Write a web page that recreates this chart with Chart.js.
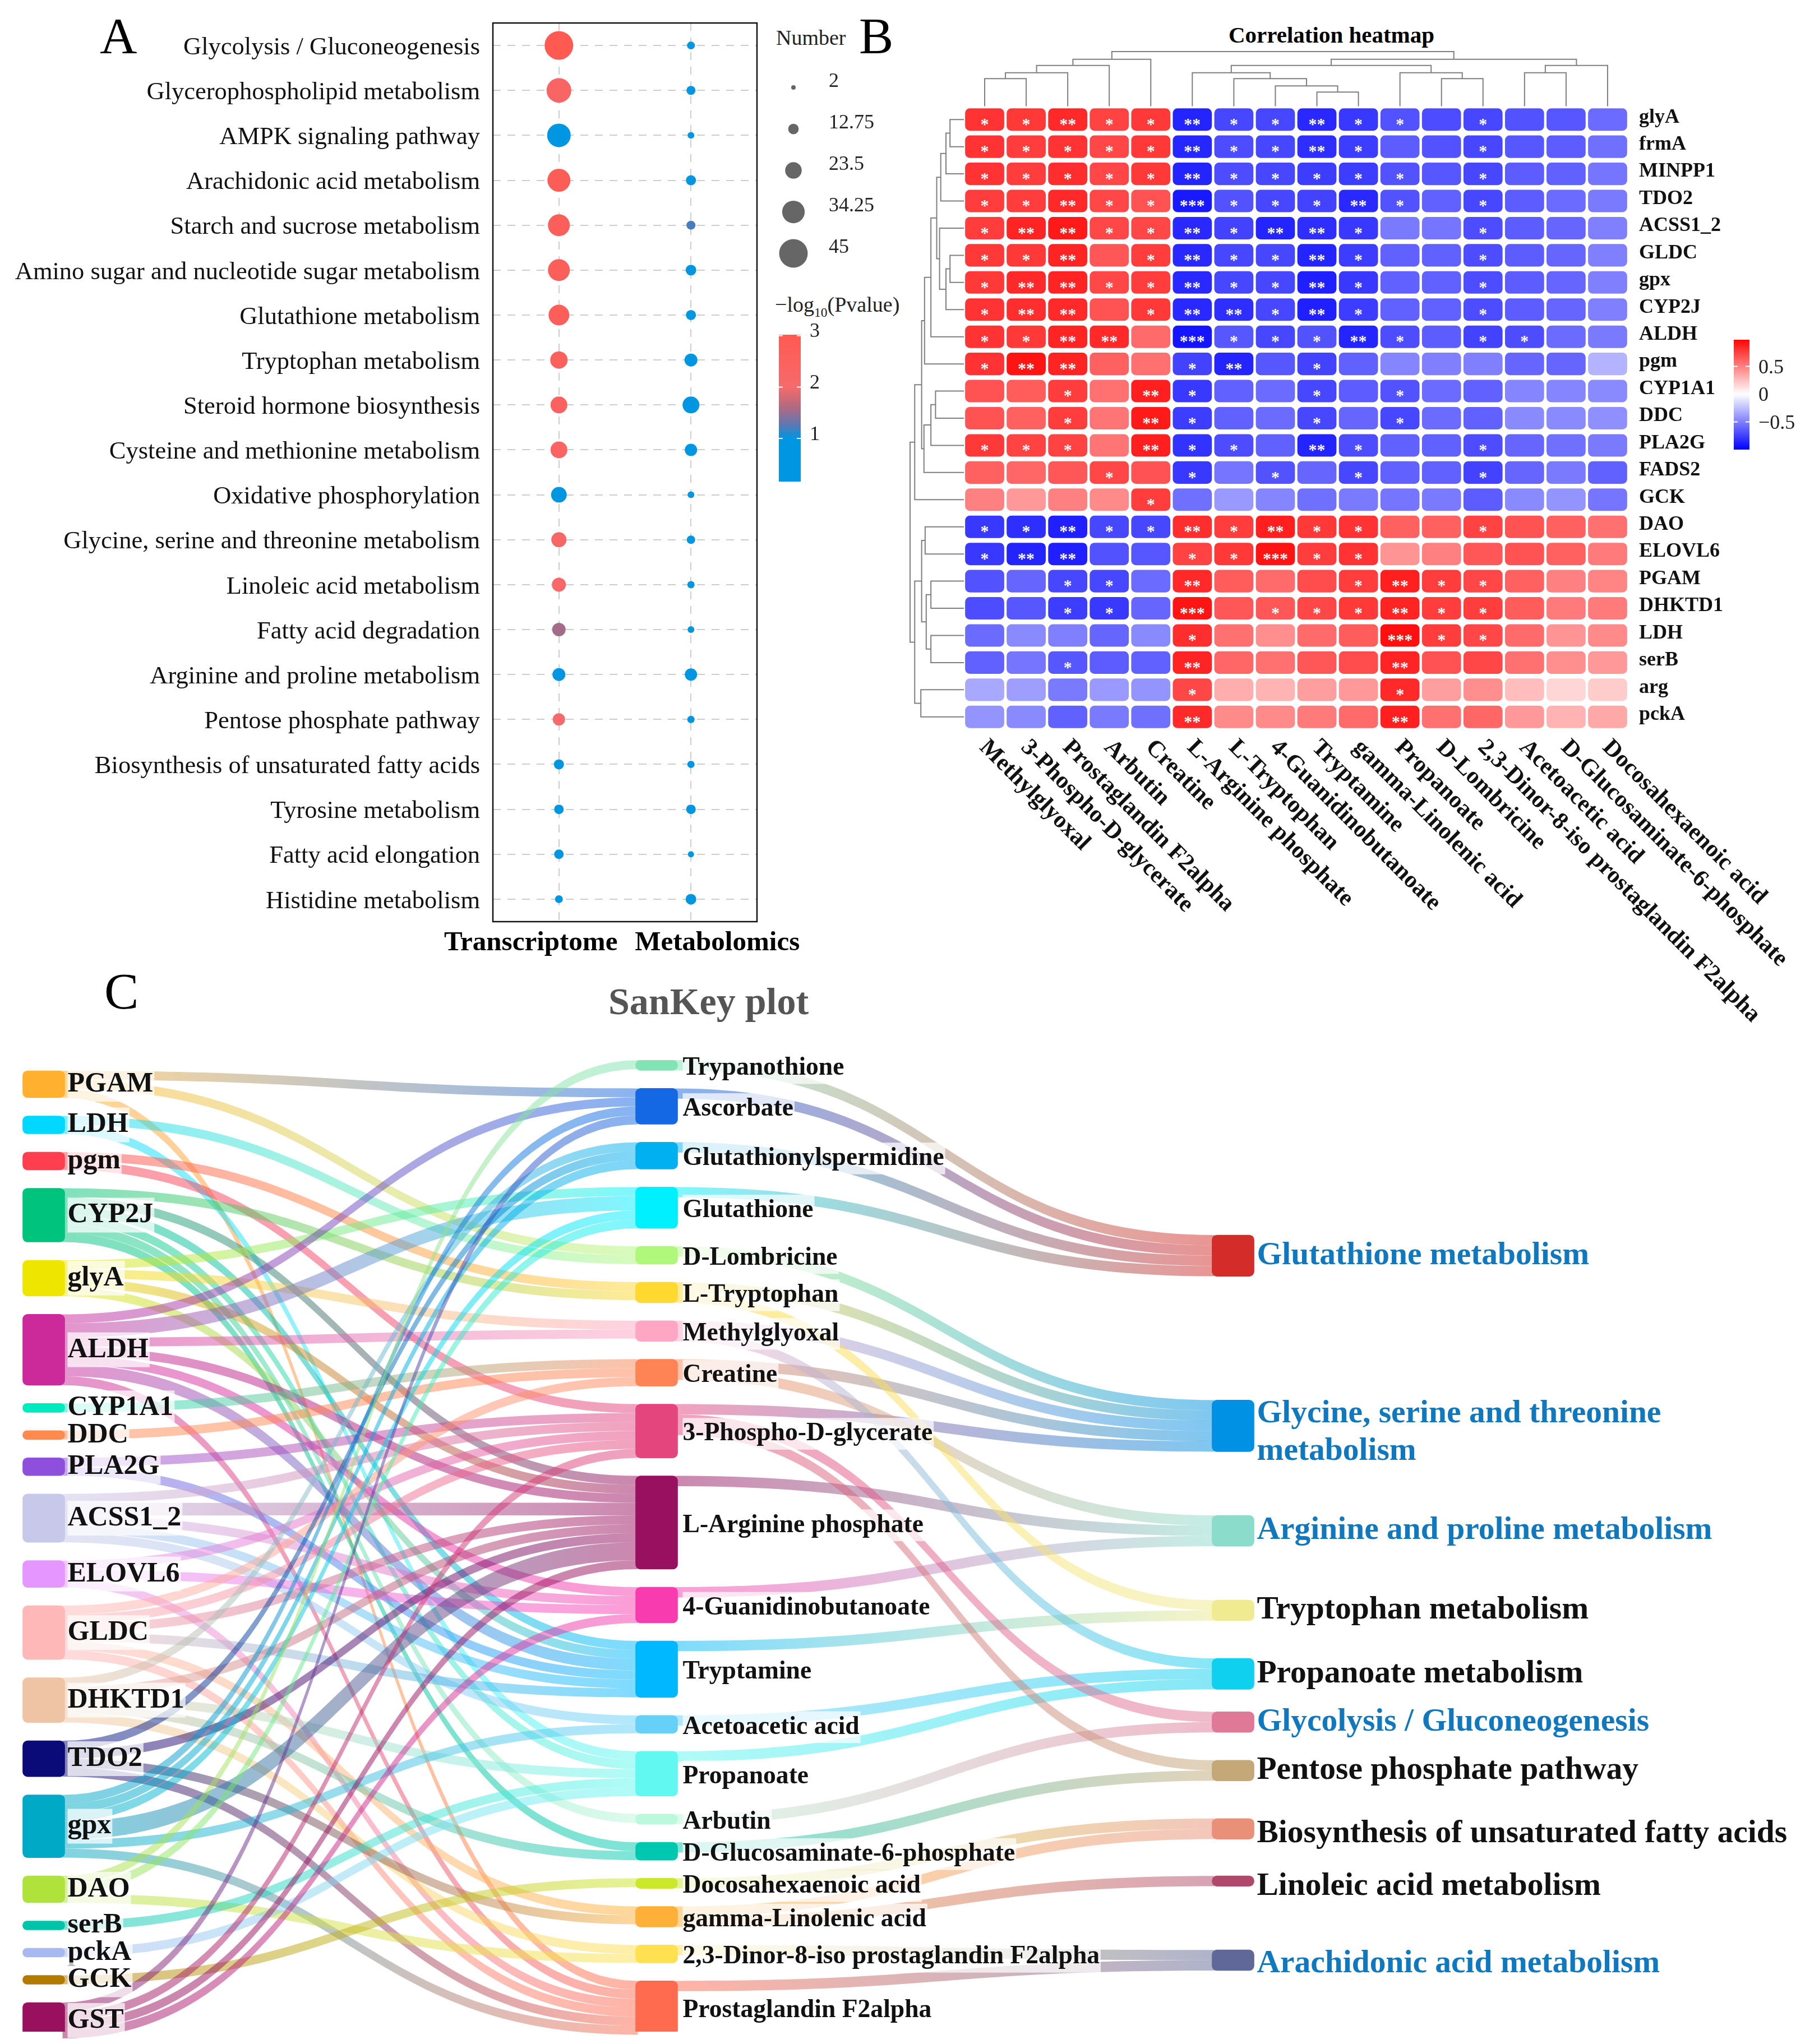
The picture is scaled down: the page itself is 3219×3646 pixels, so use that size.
<!DOCTYPE html>
<html>
<head>
<meta charset="utf-8">
<title>Pathway bubble, correlation heatmap and sankey</title>
<script src="https://cdn.jsdelivr.net/npm/chart.js@4"></script>
<style>
  html, body { margin: 0; background: #fff; }
  #page { position: relative; width: 3219px; height: 3646px; overflow: hidden; font-family: "Liberation Serif", serif; }
  canvas { position: absolute; }
  .txt { position: absolute; white-space: nowrap; line-height: 1; }
  .txt sub { font-size: 62%; }
</style>
</head>
<body>
<div id="page">
  <div class="txt" style="left:178px;top:18px;font-size:92px">A</div>
  <div class="txt" style="left:1532px;top:18px;font-size:92px">B</div>
  <div class="txt" style="left:186px;top:1722px;font-size:92px">C</div>
  <div class="txt" style="left:1384px;top:48px;font-size:38px;color:#222">Number</div>
  <div class="txt" style="left:1382px;top:524px;font-size:38px;color:#222">&minus;log<sub>10</sub>(Pvalue)</div>
  <div class="txt" style="left:2191px;top:42px;font-size:41px;font-weight:bold">Correlation heatmap</div>
  <div class="txt" style="left:1085px;top:1752px;font-size:68px;font-weight:bold;color:#555">SanKey plot</div>
</div>
<script>
// ===== Panel A data =====
const pathways = [
  "Glycolysis / Gluconeogenesis", "Glycerophospholipid metabolism", "AMPK signaling pathway",
  "Arachidonic acid metabolism", "Starch and sucrose metabolism", "Amino sugar and nucleotide sugar metabolism",
  "Glutathione metabolism", "Tryptophan metabolism", "Steroid hormone biosynthesis",
  "Cysteine and methionine metabolism", "Oxidative phosphorylation", "Glycine, serine and threonine metabolism",
  "Linoleic acid metabolism", "Fatty acid degradation", "Arginine and proline metabolism",
  "Pentose phosphate pathway", "Biosynthesis of unsaturated fatty acids", "Tyrosine metabolism",
  "Fatty acid elongation", "Histidine metabolism"
];
const omics = ["Transcriptome", "Metabolomics"];
const transcriptomeCounts = [45, 38, 36, 35, 33, 33, 31, 25, 24, 24, 22, 21, 19, 18, 17, 16, 12, 11, 11, 8];
const transcriptomeLogP = [3, 2.3, 0.6, 2.8, 2.7, 2.7, 2.7, 2.6, 2.5, 2.4, 0.8, 2.2, 2.1, 1.55, 0.9, 2, 0.7, 0.6, 0.6, 0.5];
const metabolomicsCounts = [8, 10, 6, 12, 10, 13, 12, 17, 24, 16, 6, 9, 7, 6, 16, 7, 7, 11, 5, 13];
const metabolomicsLogP = [0.5, 0.6, 0.4, 0.7, 1.2, 0.8, 0.7, 0.9, 0.9, 0.8, 0.4, 0.5, 0.4, 0.4, 0.8, 0.5, 0.4, 0.5, 0.3, 0.6];
const sizeBreaks = [2, 12.75, 23.5, 34.25, 45];
const logPTicks = [1, 2, 3];

// ===== Panel B data =====
const heatRows = ["glyA", "frmA", "MINPP1", "TDO2", "ACSS1_2", "GLDC", "gpx", "CYP2J", "ALDH", "pgm", "CYP1A1", "DDC", "PLA2G", "FADS2", "GCK", "DAO", "ELOVL6", "PGAM", "DHKTD1", "LDH", "serB", "arg", "pckA"];
const heatCols = ["Methylglyoxal", "3-Phospho-D-glycerate", "Prostaglandin F2alpha", "Arbutin", "Creatine", "L-Arginine phosphate", "L-Tryptophan", "4-Guanidinobutanoate", "Tryptamine", "gamma-Linolenic acid", "Propanoate", "D-Lombricine", "2,3-Dinor-8-iso prostaglandin F2alpha", "Acetoacetic acid", "D-Glucosaminate-6-phosphate", "Docosahexaenoic acid"];
const corrValues = [
  [.80, .78, .84, .74, .78, -.86, -.72, -.72, -.84, -.78, -.68, -.70, -.72, -.68, -.66, -.58],
  [.80, .76, .80, .72, .78, -.85, -.70, -.72, -.82, -.76, -.64, -.68, -.72, -.66, -.64, -.56],
  [.80, .76, .82, .72, .78, -.86, -.70, -.72, -.76, -.76, -.68, -.66, -.72, -.64, -.62, -.54],
  [.76, .76, .84, .72, .68, -.90, -.68, -.72, -.74, -.84, -.68, -.62, -.72, -.64, -.58, -.52],
  [.76, .86, .90, .72, .72, -.84, -.74, -.86, -.82, -.78, -.52, -.54, -.70, -.64, -.60, -.50],
  [.78, .78, .86, .66, .76, -.84, -.72, -.72, -.86, -.76, -.62, -.62, -.70, -.64, -.60, -.50],
  [.78, .84, .86, .72, .76, -.84, -.72, -.72, -.88, -.78, -.62, -.62, -.70, -.64, -.60, -.50],
  [.80, .82, .84, .68, .78, -.84, -.82, -.72, -.88, -.76, -.62, -.62, -.70, -.64, -.60, -.50],
  [.80, .78, .86, .84, .58, -.92, -.66, -.72, -.68, -.86, -.70, -.64, -.74, -.70, -.58, -.52],
  [.80, .92, .86, .62, .56, -.74, -.86, -.66, -.74, -.62, -.48, -.50, -.50, -.60, -.60, -.30],
  [.68, .64, .76, .56, .88, -.78, -.62, -.58, -.72, -.64, -.68, -.58, -.62, -.48, -.48, -.46],
  [.68, .62, .76, .54, .90, -.76, -.62, -.58, -.72, -.60, -.72, -.58, -.62, -.46, -.46, -.44],
  [.78, .74, .74, .54, .88, -.80, -.70, -.62, -.86, -.70, -.62, -.62, -.70, -.60, -.56, -.52],
  [.62, .60, .66, .72, .68, -.78, -.54, -.68, -.60, -.72, -.62, -.62, -.74, -.60, -.52, -.62],
  [.50, .40, .50, .46, .76, -.56, -.40, -.48, -.56, -.52, -.54, -.52, -.64, -.46, -.42, -.54],
  [-.78, -.82, -.88, -.72, -.72, .82, .76, .88, .78, .80, .62, .62, .74, .68, .62, .56],
  [-.78, -.86, -.88, -.68, -.66, .74, .78, .92, .76, .80, .42, .50, .66, .68, .62, .52],
  [-.68, -.60, -.72, -.72, -.58, .84, .64, .58, .70, .76, .88, .76, .72, .62, .50, .48],
  [-.70, -.66, -.76, -.78, -.60, .92, .66, .66, .72, .78, .86, .76, .76, .64, .52, .52],
  [-.58, -.46, -.50, -.60, -.46, .82, .56, .44, .58, .64, .94, .76, .72, .58, .42, .46],
  [-.62, -.54, -.66, -.64, -.62, .86, .60, .56, .66, .70, .86, .68, .72, .56, .44, .40],
  [-.34, -.38, -.52, -.40, -.42, .72, .32, .30, .38, .40, .84, .38, .44, .26, .16, .20],
  [-.42, -.46, -.62, -.52, -.56, .84, .46, .46, .52, .58, .88, .56, .60, .40, .30, .34]
];
const starLevels = [
  "1121121121101000", "1111121121001000", "1111121111101000", "1121131112101000", "1221121221001000",
  "1120121121001000", "1221121121001000", "1220122121001000", "1122031112101100", "1220012010000000",
  "0010210010100000", "0010210010100000", "1110211021001000", "0001010101001000", "0000100000000000",
  "1121121211001000", "1220011311000000", "0011020001211000", "0011030111211000", "0000010000311000",
  "0010020000200000", "0000010000100000", "0000020000200000"
];
const corrTicks = [-0.5, 0, 0.5];
// dendrograms: [left child, right child, height], a child is a leaf index or an earlier merge "m3"
const colMerges = [
  [0, 1, .506], ["m0", 2, .612], ["m1", 3, .747], ["m2", 4, .859],
  [8, 9, .259], [7, "m4", .371], [6, "m5", .506], [5, "m6", .612],
  [11, 12, .506], [10, "m8", .612], ["m7", "m9", .747],
  [13, 14, .612], ["m11", 15, .747], ["m10", "m12", .859], ["m3", "m13", 1]
];
const rowMerges = [
  [0, 1, .258], ["m0", 2, .333], ["m1", 3, .43], [5, 6, .258], ["m3", 7, .333], [4, "m4", .452],
  ["m2", "m5", .505], ["m6", 8, .613], ["m7", 9, .731], [10, 11, .527], ["m9", 12, .613], ["m10", 13, .742],
  ["m8", "m11", .785], ["m12", 14, .914], [15, 16, .72], [17, 18, .613], [19, 20, .613], ["m15", "m16", .70],
  ["m14", "m17", .785], [21, 22, .8], ["m18", "m19", .914], ["m13", "m20", 1]
];

// ===== Panel C data =====
const genes = ["PGAM", "LDH", "pgm", "CYP2J", "glyA", "ALDH", "CYP1A1", "DDC", "PLA2G", "ACSS1_2", "ELOVL6", "GLDC", "DHKTD1", "TDO2", "gpx", "DAO", "serB", "pckA", "GCK", "GST"];
const metabolites = ["Trypanothione", "Ascorbate", "Glutathionylspermidine", "Glutathione", "D-Lombricine", "L-Tryptophan", "Methylglyoxal", "Creatine", "3-Phospho-D-glycerate", "L-Arginine phosphate", "4-Guanidinobutanoate", "Tryptamine", "Acetoacetic acid", "Propanoate", "Arbutin", "D-Glucosaminate-6-phosphate", "Docosahexaenoic acid", "gamma-Linolenic acid", "2,3-Dinor-8-iso prostaglandin F2alpha", "Prostaglandin F2alpha"];
const sankeyPathways = ["Glutathione metabolism", "Glycine, serine and threonine metabolism", "Arginine and proline metabolism", "Tryptophan metabolism", "Propanoate metabolism", "Glycolysis / Gluconeogenesis", "Pentose phosphate pathway", "Biosynthesis of unsaturated fatty acids", "Linoleic acid metabolism", "Arachidonic acid metabolism"];
// a target is a name (value 1) or [name, value]
const geneTargets = [
  ["Ascorbate", "D-Lombricine", "Prostaglandin F2alpha"],
  ["D-Lombricine", "Propanoate"],
  ["L-Tryptophan", "3-Phospho-D-glycerate"],
  ["L-Tryptophan", "L-Arginine phosphate", "Tryptamine", "Propanoate", "Arbutin", "D-Glucosaminate-6-phosphate"],
  ["Glutathione", "Methylglyoxal", "L-Arginine phosphate", "Tryptamine"],
  ["Ascorbate", ["Glutathione", 1.6], "Methylglyoxal", "L-Arginine phosphate", "4-Guanidinobutanoate", ["Tryptamine", 1.3], "Prostaglandin F2alpha"],
  ["Creatine"],
  ["Creatine"],
  ["3-Phospho-D-glycerate", "Tryptamine"],
  ["3-Phospho-D-glycerate", ["L-Arginine phosphate", 1.4], "4-Guanidinobutanoate", "Tryptamine", "Acetoacetic acid"],
  ["3-Phospho-D-glycerate", "4-Guanidinobutanoate", "Prostaglandin F2alpha"],
  ["Creatine", "3-Phospho-D-glycerate", "L-Arginine phosphate", "Tryptamine", "gamma-Linolenic acid", "Prostaglandin F2alpha"],
  ["Glutathionylspermidine", "L-Arginine phosphate", "Propanoate", "D-Glucosaminate-6-phosphate", "2,3-Dinor-8-iso prostaglandin F2alpha"],
  ["Glutathionylspermidine", "L-Arginine phosphate", "gamma-Linolenic acid", "Prostaglandin F2alpha"],
  ["Ascorbate", "Glutathionylspermidine", "Glutathione", ["L-Arginine phosphate", 2], "Acetoacetic acid", "Prostaglandin F2alpha"],
  ["Trypanothione", "Glutathione", "2,3-Dinor-8-iso prostaglandin F2alpha"],
  ["Propanoate"],
  ["Propanoate"],
  ["Docosahexaenoic acid"],
  ["Ascorbate", "3-Phospho-D-glycerate", "L-Arginine phosphate", "4-Guanidinobutanoate"]
];
const pathwaySources = [
  ["Trypanothione", "Ascorbate", "Glutathionylspermidine", "Glutathione"],
  ["D-Lombricine", "L-Tryptophan", "Methylglyoxal", "Creatine", "3-Phospho-D-glycerate"],
  ["Creatine", "L-Arginine phosphate", "4-Guanidinobutanoate"],
  ["L-Tryptophan", "Tryptamine"],
  ["Methylglyoxal", "Acetoacetic acid", "Propanoate"],
  ["3-Phospho-D-glycerate", "Arbutin"],
  ["3-Phospho-D-glycerate", "D-Glucosaminate-6-phosphate"],
  ["Docosahexaenoic acid", "gamma-Linolenic acid"],
  ["gamma-Linolenic acid"],
  ["2,3-Dinor-8-iso prostaglandin F2alpha", "Prostaglandin F2alpha"]
];
const pathwayFlow = 1.15;

// ===== Styles =====
const geneColors = ["#ffb02e", "#00d8ff", "#ff3f4f", "#00c47d", "#eee600", "#cc2a9a", "#00eac0", "#ff8a50", "#8e50dc", "#c8c8ea", "#e696ff", "#ffb8b8", "#efc4a4", "#0a0a78", "#00aac6", "#b0e23c", "#00c4a8", "#a8b8f0", "#b27a00", "#99105e"];
const metaboliteColors = ["#80e4b4", "#1468e4", "#00b0f0", "#00f0ff", "#b0f87c", "#ffd830", "#ffa6c4", "#ff8455", "#e4457d", "#9a1060", "#f83cb0", "#00b8ff", "#66d0f8", "#60f8f0", "#bcf8dc", "#00c8b0", "#cce82a", "#ffb038", "#ffe050", "#ff6b4f"];
const pathwayColors = ["#d42c28", "#0090e4", "#8cdccc", "#f0ea90", "#10d0f0", "#e07898", "#c4a878", "#e89078", "#b0486c", "#606898"];
const blackPathways = ["Tryptophan metabolism", "Propanoate metabolism", "Pentose phosphate pathway", "Biosynthesis of unsaturated fatty acids", "Linoleic acid metabolism"];
const wrappedLabels = { "Glycine, serine and threonine metabolism": ["Glycine, serine and threonine", "metabolism"] };
const labelNudges = { "Glycine, serine and threonine metabolism": 12, "Biosynthesis of unsaturated fatty acids": 9, "Linoleic acid metabolism": 10, "Arachidonic acid metabolism": 7 };
const serif = '"Liberation Serif", serif';

Chart.defaults.font.family = serif;
Chart.defaults.color = "#000";

const page = document.getElementById("page");
function addChart(x, y, w, h, config) {
  const canvas = document.createElement("canvas");
  canvas.width = w;
  canvas.height = h;
  canvas.style.left = x + "px";
  canvas.style.top = y + "px";
  canvas.style.width = w + "px";
  canvas.style.height = h + "px";
  page.appendChild(canvas);
  config.options = Object.assign({
    responsive: false,
    animation: false,
    devicePixelRatio: 1,
  }, config.options);
  config.options.layout = Object.assign({ autoPadding: false }, config.options.layout);
  config.options.plugins = Object.assign({ legend: { display: false }, tooltip: { enabled: false } }, config.options.plugins);
  return new Chart(canvas, config);
}
const noScalePadding = s => { s.paddingTop = s.paddingBottom = s.paddingLeft = s.paddingRight = 0; };

function lerpStops(stops, v) {
  if (v <= stops[0][0]) return stops[0][1];
  for (let i = 1; i < stops.length; i++) {
    if (v <= stops[i][0]) {
      const t = (v - stops[i - 1][0]) / (stops[i][0] - stops[i - 1][0]);
      const a = stops[i - 1][1], b = stops[i][1];
      return a.map((c, k) => c + (b[k] - c) * t);
    }
  }
  return stops[stops.length - 1][1];
}
const rgb = c => `rgb(${c.map(Math.round).join(",")})`;

const logPStops = [[0, [0, 150, 226]], [1, [0, 150, 226]], [1.25, [88, 120, 180]], [1.6, [176, 106, 130]], [2, [246, 106, 108]], [3, [255, 90, 82]]];
const logPColor = v => rgb(lerpStops(logPStops, v));
const corrStops = [[-1, [0, 0, 255]], [0, [255, 255, 255]], [1, [255, 0, 0]]];
const corrColor = v => rgb(lerpStops(corrStops, v));
const sizeToRadius = n => 4 + (n - 2) * 0.5;

// colour bar shared by panels A and B
function addColorBar(x, y, w, h, min, max, ticks, colorAt, labelOffset, format) {
  addChart(x, y - 30, w + 120, h + 60, {
    type: "bar",
    data: {
      labels: [""],
      datasets: [{
        data: [[min, max]],
        categoryPercentage: 1,
        barPercentage: 1,
        backgroundColor: ctx => {
          const area = ctx.chart.chartArea;
          if (!area) return "#ccc";
          const g = ctx.chart.ctx.createLinearGradient(0, area.bottom, 0, area.top);
          for (let i = 0; i <= 60; i++) g.addColorStop(i / 60, colorAt(min + (max - min) * i / 60));
          return g;
        },
      }],
    },
    options: {
      layout: { padding: { top: 30, bottom: 30 } },
      scales: {
        x: { display: false },
        y: {
          position: "right", min, max,
          afterBuildTicks: s => { s.ticks = ticks.map(v => ({ value: v })); },
          afterFit: s => { s.width = 120; noScalePadding(s); },
          grid: { display: false },
          border: { display: false },
          ticks: { callback: format, font: { size: 36 }, padding: 8, labelOffset, color: "#222", autoSkip: false },
        },
      },
    },
    plugins: [{
      id: "barTicks",
      afterDatasetsDraw(chart) {
        const { ctx, scales: { y: s }, chartArea: a } = chart;
        ctx.save();
        ctx.strokeStyle = "#fff";
        ctx.lineWidth = 2;
        ticks.forEach(v => {
          const p = s.getPixelForValue(v);
          ctx.beginPath();
          ctx.moveTo(a.left, p); ctx.lineTo(a.left + 7, p);
          ctx.moveTo(a.right - 7, p); ctx.lineTo(a.right, p);
          ctx.stroke();
        });
        ctx.restore();
      },
    }],
  });
}

// ===== Panel A =====
const bubblePoints = (omic, counts) => counts.map((n, i) => ({ x: omic, y: pathways[i], r: sizeToRadius(n) }));
addChart(0, 0, 1480, 1720, {
  type: "bubble",
  data: {
    datasets: [
      { label: omics[0], data: bubblePoints(omics[0], transcriptomeCounts), backgroundColor: transcriptomeLogP.map(logPColor), borderWidth: 0 },
      { label: omics[1], data: bubblePoints(omics[1], metabolomicsCounts), backgroundColor: metabolomicsLogP.map(logPColor), borderWidth: 0 },
    ],
  },
  options: {
    layout: { padding: { top: 41, right: 130, bottom: 76 } },
    scales: {
      x: {
        type: "category", labels: omics, offset: true,
        afterFit: s => { s.height = 0; noScalePadding(s); },
        ticks: { display: false },
        grid: { color: "#cdcdcd", lineWidth: 2, drawTicks: false },
        border: { display: false, dash: [14, 12] },
      },
      y: {
        type: "category", labels: pathways, offset: true,
        afterFit: s => { s.width = 879; noScalePadding(s); },
        ticks: { font: { size: 44.5 }, padding: 23, autoSkip: false, color: "#111", labelOffset: 4 },
        grid: { color: "#cdcdcd", lineWidth: 2, drawTicks: false },
        border: { display: false, dash: [14, 12] },
      },
    },
  },
  plugins: [{
    id: "boxAndAxisNames",
    afterDraw(chart) {
      const { ctx, chartArea: a, scales: { x } } = chart;
      ctx.save();
      ctx.strokeStyle = "#111";
      ctx.lineWidth = 2.5;
      ctx.strokeRect(a.left, a.top, a.width, a.height);
      ctx.fillStyle = "#000";
      ctx.font = "bold 49px " + serif;
      ctx.textAlign = "center";
      ctx.textBaseline = "middle";
      ctx.fillText(omics[0], x.getPixelForValue(0) - 50, a.bottom + 38);
      ctx.fillText(omics[1], x.getPixelForValue(1) + 47, a.bottom + 38);
      ctx.restore();
    },
  }],
});

// size legend
const sizeLabels = sizeBreaks.map(String);
addChart(1380, 119, 190, 370, {
  type: "bubble",
  data: {
    datasets: [{
      data: sizeBreaks.map((n, i) => ({ x: "n", y: sizeLabels[i], r: sizeToRadius(n) })),
      backgroundColor: "#666",
      borderWidth: 0,
      clip: false,
    }],
  },
  options: {
    layout: { padding: { right: 120 } },
    scales: {
      x: { type: "category", labels: ["n"], offset: true, display: false },
      y: { type: "category", labels: sizeLabels, offset: true, display: false },
    },
  },
  plugins: [{
    id: "sizeLabels",
    afterDatasetsDraw(chart) {
      const { ctx, scales: { x, y } } = chart;
      ctx.save();
      ctx.font = "36px " + serif;
      ctx.fillStyle = "#222";
      ctx.textBaseline = "middle";
      sizeLabels.forEach((t, i) => ctx.fillText(t, x.getPixelForValue(0) + 63, y.getPixelForValue(i) - 10));
      ctx.restore();
    },
  }],
});

addColorBar(1389, 597, 39, 262, 0.16, 3.02, logPTicks, logPColor, -7, v => String(v));

// ===== Panel B =====
addChart(1700, 150, 1519, 1750, {
  type: "bar",
  data: {
    labels: heatRows,
    datasets: heatCols.map((name, c) => ({
      label: name,
      data: heatRows.map(() => [c, c + 1]),
      backgroundColor: heatRows.map((_, r) => corrColor(corrValues[r][c])),
      borderColor: "#fff",
      borderWidth: { top: 4.5, bottom: 4.5, left: 2.5, right: 2.5 },
      borderSkipped: false,
      borderRadius: 13,
      categoryPercentage: 1,
      barPercentage: 1,
      grouped: false,
    })),
  },
  options: {
    indexAxis: "y",
    layout: { padding: { left: 19, top: 39, right: 15, bottom: 597 } },
    scales: {
      x: { type: "linear", min: 0, max: heatCols.length, display: false },
      y: {
        type: "category", position: "right",
        afterFit: s => { s.width = 300; noScalePadding(s); },
        grid: { display: false },
        border: { display: false },
        ticks: { font: { size: 36, weight: "bold" }, padding: 11, autoSkip: false, color: "#111", labelOffset: -4 },
      },
    },
  },
  plugins: [{
    id: "starsAndColumnNames",
    afterDatasetsDraw(chart) {
      const { ctx, chartArea: a, scales: { x, y } } = chart;
      ctx.save();
      ctx.fillStyle = "#fff";
      ctx.font = "bold 30px " + serif;
      ctx.textAlign = "center";
      ctx.textBaseline = "middle";
      starLevels.forEach((row, r) => {
        for (let c = 0; c < row.length; c++) {
          const n = +row[c];
          if (n) ctx.fillText("*".repeat(n), x.getPixelForValue(c + 0.5), y.getPixelForValue(r) + 10);
        }
      });
      ctx.fillStyle = "#111";
      ctx.font = "bold 42.5px " + serif;
      ctx.textAlign = "left";
      heatCols.forEach((name, c) => {
        ctx.save();
        ctx.translate(x.getPixelForValue(c + 0.5) - 3, a.bottom + 24);
        ctx.rotate(Math.PI / 4);
        ctx.fillText(name, 0, 0);
        ctx.restore();
      });
      ctx.restore();
    },
  }],
});

// turns merges into one polyline dataset per merge
function dendroDatasets(merges, toPoint) {
  const done = [];
  return merges.map(([a, b, h]) => {
    const side = k => typeof k === "number" ? { p: k + 0.5, h: 0 } : done[+k.slice(1)];
    const A = side(a), B = side(b);
    done.push({ p: (A.p + B.p) / 2, h });
    return {
      data: [toPoint(A.p, A.h), toPoint(A.p, h), toPoint(B.p, h), toPoint(B.p, B.h)],
      showLine: true, pointRadius: 0, borderColor: "#7f7f7f", borderWidth: 2, clip: false, tension: 0,
    };
  });
}
addChart(1709, 82, 1205, 112, {
  type: "scatter",
  data: { datasets: dendroDatasets(colMerges, (p, h) => ({ x: p, y: h })) },
  options: {
    layout: { padding: { left: 10, right: 10, top: 10, bottom: 4.5 } },
    scales: {
      x: { type: "linear", min: 0, max: heatCols.length, display: false },
      y: { type: "linear", min: 0, max: 1, display: false },
    },
  },
});
addChart(1613, 179, 110, 1134, {
  type: "scatter",
  data: { datasets: dendroDatasets(rowMerges, (p, h) => ({ x: h, y: p })) },
  options: {
    layout: { padding: { left: 10, right: 4, top: 10, bottom: 10 } },
    scales: {
      x: { type: "linear", min: 0, max: 1, reverse: true, display: false },
      y: { type: "linear", min: 0, max: heatRows.length, reverse: true, display: false },
    },
  },
});
addColorBar(3092, 606, 28, 196, -1, 0.98, corrTicks, corrColor, 3, v => String(v).replace("-", "\u2212"));

// ===== Panel C =====
const unitPx = 16;                 // pixels per link unit
const columnCentres = [78, 1171, 2199];
const columnStarts = [1.19, 0, 19.5];
const geneGap = 2.03;
const metaboliteGap = 2;
const pathwayGaps = [13.8, 7.1, 6, 4.2, 2.5, 3.1, 4.2, 4.1, 7.1];

function buildSankey() {
  const nodes = {};
  const add = (names, colors, col) => names.forEach((name, i) => {
    nodes[name] = { name, col, color: colors[i], order: i, inSum: 0, outSum: 0, links: { in: [], out: [] } };
  });
  add(genes, geneColors, 0);
  add(metabolites, metaboliteColors, 1);
  add(sankeyPathways, pathwayColors, 2);

  const links = [];
  const link = (source, target, value) => {
    const s = nodes[source], t = nodes[target];
    const l = { s, t, value };
    links.push(l);
    s.links.out.push(l);
    t.links.in.push(l);
  };
  genes.forEach((g, i) => geneTargets[i].forEach(m => {
    if (Array.isArray(m)) link(g, m[0], m[1]);
    else link(g, m, 1);
  }));
  sankeyPathways.forEach((p, i) => pathwaySources[i].forEach(m => link(m, p, pathwayFlow)));

  links.forEach(l => { l.s.outSum += l.value; l.t.inSum += l.value; });
  const stack = (names, start, gapAt) => {
    let y = start;
    names.forEach((name, i) => {
      const n = nodes[name];
      n.y0 = y;
      n.y1 = y + Math.max(n.inSum, n.outSum);
      y = n.y1 + gapAt(i);
    });
  };
  stack(genes, columnStarts[0], () => geneGap);
  stack(metabolites, columnStarts[1], () => metaboliteGap);
  stack(sankeyPathways, columnStarts[2], i => pathwayGaps[i]);

  Object.values(nodes).forEach(n => {
    let y = n.y0;
    n.links.out.sort((a, b) => a.t.order - b.t.order).forEach(l => { l.sy = y; y += l.value; });
    y = n.y0;
    n.links.in.sort((a, b) => a.s.order - b.s.order).forEach(l => { l.ty = y; y += l.value; });
  });
  return { nodes: Object.values(nodes), links };
}
const sankey = buildSankey();
const nodeWidth = 75;

addChart(0, 1850, 3219, 1796, {
  type: "bar",
  data: {
    datasets: [{
      data: sankey.nodes.map(n => ({ x: columnCentres[n.col], y: [n.y0, n.y1] })),
      backgroundColor: sankey.nodes.map(n => n.color),
      barThickness: nodeWidth,
      borderRadius: 9,
      borderSkipped: false,
    }],
  },
  options: {
    layout: { padding: { top: 41, bottom: 22 } },
    scales: {
      x: { type: "linear", min: 0, max: 3219, offset: false, display: false },
      y: { type: "linear", min: 0, max: 1733 / unitPx, reverse: true, display: false },
    },
  },
  plugins: [{
    id: "sankeyRibbons",
    beforeDatasetsDraw(chart) {
      const { ctx, scales: { x, y } } = chart;
      ctx.save();
      ctx.globalAlpha = 0.5;
      sankey.links.forEach(l => {
        const x0 = x.getPixelForValue(columnCentres[l.s.col]) + nodeWidth / 2 - 4;
        const x1 = x.getPixelForValue(columnCentres[l.t.col]) - nodeWidth / 2 + 4;
        const mid = (x0 + x1) / 2;
        const a0 = y.getPixelForValue(l.sy), a1 = y.getPixelForValue(l.sy + l.value);
        const b0 = y.getPixelForValue(l.ty), b1 = y.getPixelForValue(l.ty + l.value);
        const g = ctx.createLinearGradient(x0, 0, x1, 0);
        g.addColorStop(0, l.s.color);
        g.addColorStop(1, l.t.color);
        ctx.fillStyle = g;
        ctx.beginPath();
        ctx.moveTo(x0, a0);
        ctx.bezierCurveTo(mid, a0, mid, b0, x1, b0);
        ctx.lineTo(x1, b1);
        ctx.bezierCurveTo(mid, b1, mid, a1, x0, a1);
        ctx.closePath();
        ctx.fill();
      });
      ctx.restore();
    },
    afterDatasetsDraw(chart) {
      const { ctx, scales: { x, y } } = chart;
      const fontSize = [50, 45.6, 57.5];
      const labelShift = [0, 5, 0];
      const labelGap = [5, 9, 5];
      ctx.save();
      ctx.textAlign = "left";
      ctx.textBaseline = "middle";
      sankey.nodes.forEach(n => {
        const left = x.getPixelForValue(columnCentres[n.col]) + nodeWidth / 2 + labelGap[n.col];
        const centre = y.getPixelForValue((n.y0 + n.y1) / 2) + labelShift[n.col] + (labelNudges[n.name] || 0);
        const lines = wrappedLabels[n.name] || [n.name];
        const step = fontSize[n.col] * 1.17;
        ctx.font = "bold " + fontSize[n.col] + "px " + serif;
        lines.forEach((line, i) => {
          const ly = centre + (i - (lines.length - 1) / 2) * step;
          if (n.col < 2) {
            ctx.fillStyle = "rgba(255,255,255,0.72)";
            ctx.fillRect(left, ly - fontSize[n.col] * 0.62, ctx.measureText(line).width + 2, fontSize[n.col] * 1.24);
          }
          ctx.fillStyle = n.col < 2 || blackPathways.includes(n.name) ? "#111" : "#0f78be";
          ctx.fillText(line, left, ly);
        });
      });
      ctx.restore();
    },
  }],
});
</script>
</body>
</html>
